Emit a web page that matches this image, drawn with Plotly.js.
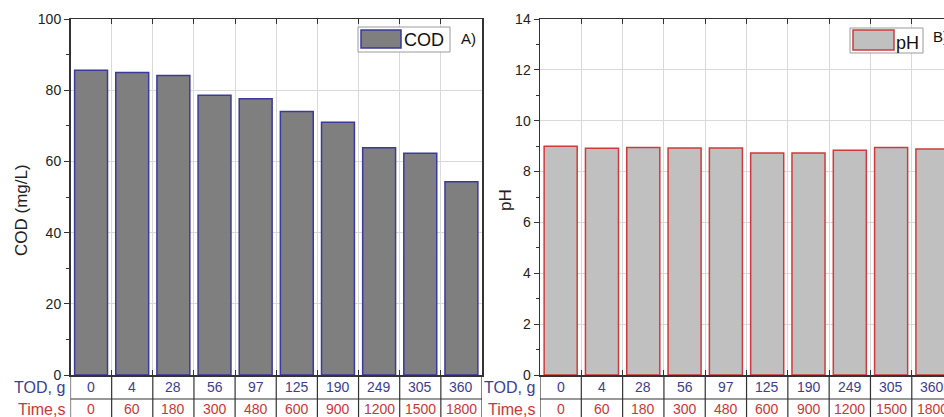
<!DOCTYPE html>
<html>
<head>
<meta charset="utf-8">
<script src="https://cdn.plot.ly/plotly-3.0.1.min.js"></script>
<style>html,body{margin:0;padding:0;background:#fff;}#chart{width:944px;height:417px;}</style>
</head>
<body>
<div id="chart"></div>
<script>
// ---- data ----
const todLabels = ['0','4','28','56','97','125','190','249','305','360'];
const timeLabels = ['0','60','180','300','480','600','900','1200','1500','1800'];
const codValues = [85.6, 85.0, 84.1, 78.6, 77.6, 74.0, 71.0, 63.8, 62.3, 54.3];
const phValues = [9.0, 8.92, 8.95, 8.93, 8.93, 8.73, 8.73, 8.84, 8.95, 8.89];
const rowLabels = ['TOD, g', 'Time,s'];

// ---- styling ----
const FONT = 'Liberation Sans, Arial, sans-serif';
const BLUE = '#3b3f93';
const RED = '#c8383a';
const AXC = '#333333';
const GRID = '#d9d9d9';
const W = 944, H = 417;
const plotTop = 19, plotBot = 375;
const yBot = 1 - plotBot / H, yTop = 1 - plotTop / H;
const px = v => v / W;
const py = v => 1 - v / H;

const traces = [
  {type:'bar', x: todLabels, y: codValues, xaxis:'x', yaxis:'y', width:0.8,
   marker:{color:'#7f7f7f', line:{color:'#3a3a9a', width:1.5}}, showlegend:false, hoverinfo:'x+y'},
  {type:'bar', x: todLabels, y: phValues, xaxis:'x2', yaxis:'y2', width:0.8,
   marker:{color:'#c0c0c0', line:{color:'#d03a3a', width:1.5}}, showlegend:false, hoverinfo:'x+y'}
];

function xAxis(domain, range, anchor){
  return {domain, range, type:'category', anchor, showticklabels:false,
    ticks:'inside', ticklen:5, tickcolor:AXC, tickson:'boundaries',
    showgrid:true, gridcolor:GRID, gridwidth:1,
    showline:true, linecolor:AXC, linewidth:1.5, mirror:'ticks', zeroline:false, fixedrange:true};
}
function yAxis(anchor, range, dtick, minorD, mirror){
  return {domain:[yBot, yTop], range, anchor, dtick, tick0:0,
    ticks:'outside', ticklen:5, tickcolor:AXC, tickwidth:1,
    minor:{ticks:'outside', dtick:minorD, tick0:0, ticklen:3, tickcolor:AXC, showgrid:false},
    tickfont:{family:FONT, size:14, color:'#222'},
    showgrid:true, gridcolor:GRID, gridwidth:1,
    showline:true, linecolor:AXC, linewidth:1.5, mirror, zeroline:false, fixedrange:true};
}

const layout = {
  width: W, height: H,
  margin:{l:0, r:0, t:0, b:0},
  paper_bgcolor:'#fff', plot_bgcolor:'#fff',
  font:{family:FONT, color:'#222'},
  bargap:0.2,
  xaxis: xAxis([px(70.5), px(482)], [-0.5, 9.5], 'y'),
  yaxis: yAxis('x', [0, 100], 20, 10, true),
  xaxis2: xAxis([px(540), 1], [-0.5, 9.28], 'y2'),
  yaxis2: yAxis('x2', [0, 14], 2, 1, false),
  shapes: [], annotations: []
};

// table below each panel
function addTable(xref, nCats, labelRight){
  const rowY1 = py(387), rowY2 = py(409), sepY = py(399);
  layout.shapes.push({type:'line', xref, yref:'paper', x0:-0.5, x1:nCats-0.5, y0:sepY, y1:sepY,
    line:{color:AXC, width:1.2}});
  for (let i = 0; i <= nCats; i++) {
    layout.shapes.push({type:'line', xref, yref:'paper', x0:i-0.5, x1:i-0.5, y0:0, y1:yBot,
      line:{color:AXC, width:1.2}});
  }
  todLabels.forEach((t, i) => {
    layout.annotations.push({xref, yref:'paper', x:i, y:rowY1, text:t, showarrow:false,
      font:{family:FONT, size:14, color:BLUE}, xanchor:'center', yanchor:'middle'});
    layout.annotations.push({xref, yref:'paper', x:i, y:rowY2, text:timeLabels[i], showarrow:false,
      font:{family:FONT, size:14, color:RED}, xanchor:'center', yanchor:'middle'});
  });
  layout.annotations.push({xref:'paper', yref:'paper', x:px(labelRight), y:rowY1, text:rowLabels[0],
    showarrow:false, font:{family:FONT, size:16, color:BLUE}, xanchor:'right', yanchor:'middle'});
  layout.annotations.push({xref:'paper', yref:'paper', x:px(labelRight), y:rowY2, text:rowLabels[1],
    showarrow:false, font:{family:FONT, size:16, color:RED}, xanchor:'right', yanchor:'middle'});
}
addTable('x', todLabels.length, 67);
addTable('x2', todLabels.length, 537);

// axis titles
layout.annotations.push({xref:'paper', yref:'paper', x:px(21), y:py(210), text:'COD (mg/L)', textangle:-90,
  showarrow:false, font:{family:FONT, size:17, color:'#222'}, xanchor:'center', yanchor:'middle'});
layout.annotations.push({xref:'paper', yref:'paper', x:px(505), y:py(200), text:'pH', textangle:-90,
  showarrow:false, font:{family:FONT, size:17, color:'#222'}, xanchor:'center', yanchor:'middle'});

// legends (drawn manually to match large swatches)
function addLegend(box, sw, fill, edge, label, labelX, labelY, tag, tagX, tagY){
  layout.shapes.push({type:'rect', xref:'paper', yref:'paper', x0:px(box[0]), x1:px(box[1]), y0:py(box[3]), y1:py(box[2]),
    fillcolor:'#fff', line:{color:'#9a9a9a', width:1}});
  layout.shapes.push({type:'rect', xref:'paper', yref:'paper', x0:px(sw[0]), x1:px(sw[1]), y0:py(sw[3]), y1:py(sw[2]),
    fillcolor:fill, line:{color:edge, width:1.5}});
  layout.annotations.push({xref:'paper', yref:'paper', x:px(labelX), y:py(labelY), text:label, showarrow:false,
    font:{family:FONT, size:18, color:'#111'}, xanchor:'left', yanchor:'middle'});
  layout.annotations.push({xref:'paper', yref:'paper', x:px(tagX), y:py(tagY), text:tag, showarrow:false,
    font:{family:FONT, size:15, color:'#111'}, xanchor:'left', yanchor:'middle'});
}
addLegend([358, 450, 27, 52], [361, 401, 30, 48], '#7f7f7f', '#3a3a9a', 'COD', 402, 40, 'A)', 459, 39);
addLegend([850, 923, 28, 53], [853, 894, 30, 50], '#c0c0c0', '#d03a3a', 'pH', 894, 43, 'B)', 931, 36);

Plotly.newPlot('chart', traces, layout, {displayModeBar:false, staticPlot:true});
</script>
</body>
</html>
